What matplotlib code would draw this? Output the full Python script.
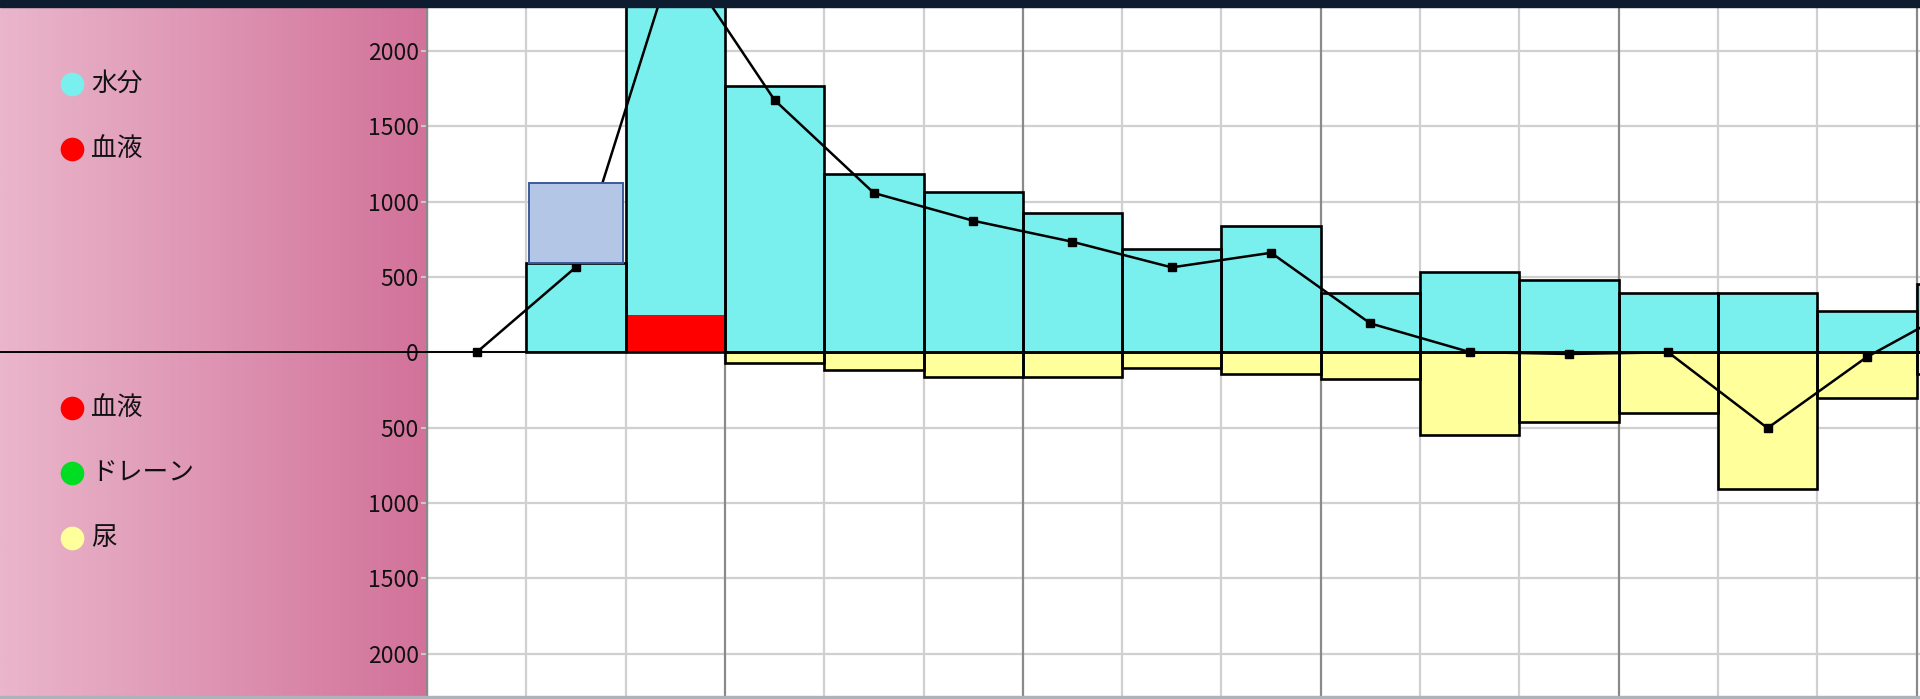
import numpy as np
import matplotlib.pyplot as plt
import matplotlib.transforms as mtransforms
from matplotlib.colors import LinearSegmentedColormap
from matplotlib.patches import Rectangle

plt.rcParams['font.family'] = ['Noto Sans CJK JP', 'DejaVu Sans']

# one column per time slot
slots = np.arange(16)
water = [0, 595, 2410, 1770, 1184, 1066, 927, 684, 839, 396, 535, 480, 396, 395, 276, 453]
blood_in = [0, 0, 250, 0, 0, 0, 0, 0, 0, 0, 0, 0, 0, 0, 0, 0]
pending = [0, 530, 0, 0, 0, 0, 0, 0, 0, 0, 0, 0, 0, 0, 0, 0]
blood_out = [0, 0, 0, 0, 0, 0, 0, 0, 0, 0, 0, 0, 0, 0, 0, 0]
drain = [0, 0, 0, 0, 0, 0, 0, 0, 0, 0, 0, 0, 0, 0, 0, 0]
urine = [0, 0, 0, 72, 117, 162, 162, 106, 146, 179, 549, 465, 405, 907, 305, 143]
balance = [0, 566, 2660, 1675, 1058, 874, 734, 564, 661, 192, 2, -11, 0, -503, -31, 330]

in_labels = ['水分', '血液']
in_colors = ['#7af0ee', '#ff0000']
out_labels = ['血液', 'ドレーン', '尿']
out_colors = ['#ff0000', '#00dd22', '#ffff9c']
yticks = [-2000, -1500, -1000, -500, 0, 500, 1000, 1500, 2000]

W, H = 1920, 699
fig = plt.figure(figsize=(W / 100, H / 100), dpi=100)
fig.patch.set_facecolor('white')

# pink panel on the left (pixel coordinates)
px_left = 427
panel = fig.add_axes([0, 0, px_left / W, 1])
panel.set_xlim(0, px_left)
panel.set_ylim(H, 0)
panel.axis('off')
grad = LinearSegmentedColormap.from_list('pnk', ['#eab6cb', '#d2729a'])
panel.imshow(np.linspace(0, 1, 256).reshape(1, -1), cmap=grad, aspect='auto',
             extent=(0, px_left, H, 0), zorder=0)

for i, (lab, c) in enumerate(zip(in_labels, in_colors)):
    y = 84 + i * 65
    panel.scatter([72], [y], s=290, color=c, zorder=3, linewidths=0)
    panel.text(91, y, lab, fontsize=18.5, va='center', ha='left', color='#111111')
for i, (lab, c) in enumerate(zip(out_labels, out_colors)):
    y = 408 + i * 65
    panel.scatter([72], [y], s=290, color=c, zorder=3, linewidths=0)
    panel.text(91, y, lab, fontsize=18.5, va='center', ha='left', color='#111111')

# main chart
top_px, bot_px = 7, 696
ax = fig.add_axes([px_left / W, (H - bot_px) / H, 1 - px_left / W, (bot_px - top_px) / H])
ax.patch.set_alpha(0)
ax.set_xlim(0, (W - px_left) / 99.3)
ax.set_ylim(-2282, 2293)

for v in yticks:
    ax.axhline(v, color='#d0d0d0', lw=1.6, zorder=0)
for i in range(17):
    ax.axvline(i, color='#8a8a8a' if i % 3 == 0 else '#d0d0d0', lw=1.6, zorder=0)

ax.set_yticks(yticks)
ax.set_yticklabels([str(abs(v)) for v in yticks])
ax.tick_params(axis='y', length=4, color='#c8c8c8', width=1.5, pad=2,
               labelsize=16.5, labelcolor='#111111')
ax.set_xticks([])
for s in ['top', 'right', 'bottom']:
    ax.spines[s].set_visible(False)
ax.spines['left'].set_color('#8a8a8a')
ax.spines['left'].set_linewidth(1.6)

water = np.array(water)
blood_in = np.array(blood_in)
pending = np.array(pending)
urine = np.array(urine)
blood_out = np.array(blood_out)
drain = np.array(drain)

intake = water + blood_in
output = urine + drain + blood_out
has_in = intake > 0
has_out = output > 0

# intake side
ax.bar(slots, water, width=1, bottom=blood_in, align='edge', color=in_colors[0], zorder=2)
ax.bar(slots, blood_in, width=1, align='edge', color=in_colors[1], zorder=2)
ax.bar(slots[has_in], intake[has_in], width=1, align='edge', fill=False,
       edgecolor='black', lw=1.9, zorder=3)

# output side (drawn downward)
ax.bar(slots, -blood_out, width=1, align='edge', color=out_colors[0], zorder=2)
ax.bar(slots, -drain, width=1, bottom=-blood_out, align='edge', color=out_colors[1], zorder=2)
ax.bar(slots, -urine, width=1, bottom=-blood_out - drain, align='edge',
       color=out_colors[2], zorder=2)
ax.bar(slots[has_out], -output[has_out], width=1, align='edge', fill=False,
       edgecolor='black', lw=1.9, zorder=3)

# balance line
ax.plot(slots + 0.5, balance, color='black', lw=1.8, marker='s', ms=5.5, zorder=5)

# pending box sits on top of the line
sel = pending > 0
ax.bar(slots[sel] + 0.5, pending[sel], width=0.95, bottom=intake[sel],
       color='#b4c6e6', edgecolor='#3b5a9a', lw=1.4, zorder=6)

# zero line goes through the panel as well
ax.plot([-px_left / (W - px_left), 1.0], [0, 0], color='black', lw=1.4, zorder=4,
        transform=mtransforms.blended_transform_factory(ax.transAxes, ax.transData),
        clip_on=False)

# dark strip at the top and grey strip at the bottom
fig.add_artist(Rectangle((0, 1 - top_px / H), 1, top_px / H, transform=fig.transFigure,
                         color='#0e1c30', zorder=10))
fig.add_artist(Rectangle((0, 0), 1, (H - bot_px) / H, transform=fig.transFigure,
                         color='#aeb2ba', zorder=10))

fig.savefig('out.png', dpi=100)
